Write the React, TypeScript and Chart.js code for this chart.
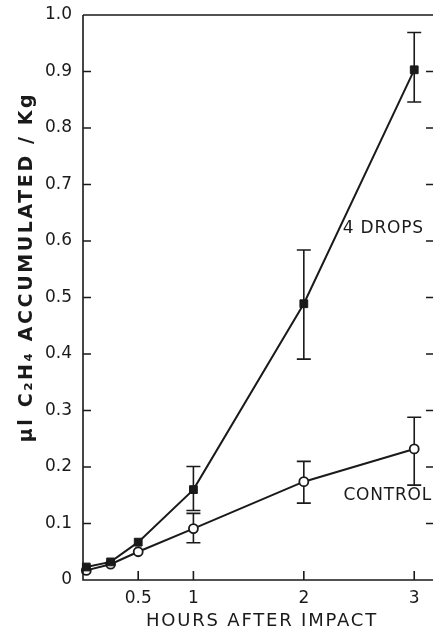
import React, { useEffect, useRef } from "react";
import { Chart, registerables } from "chart.js";

Chart.register(...registerables);

// Hours after impact
const hours = [0.03, 0.25, 0.5, 1, 2, 3];
// 4 DROPS series (filled squares)
const fourDrops = [0.023, 0.032, 0.067, 0.16, 0.489, 0.903];
const fourDropsLow = [null, null, null, 0.123, 0.391, 0.846];
const fourDropsHigh = [null, null, null, 0.201, 0.584, 0.969];
// CONTROL series (open circles)
const control = [0.017, 0.028, 0.05, 0.091, 0.174, 0.232];
const controlLow = [null, null, null, 0.066, 0.136, 0.168];
const controlHigh = [null, null, null, 0.118, 0.21, 0.288];

const xTickValues = [0.5, 1, 2, 3];
const xTickLabels = ["0.5", "1", "2", "3"];
const yTickLabels = ["0", "0.1", "0.2", "0.3", "0.4", "0.5", "0.6", "0.7", "0.8", "0.9", "1.0"];

const xTitle = "HOURS AFTER IMPACT";
const yTitle = "μl C₂H₄ ACCUMULATED / Kg";
const seriesNames = ["4 DROPS", "CONTROL"];

const INK = "#1a1a1a";
const FONT = '"DejaVu Sans", sans-serif';

export default function App() {
  const ref = useRef<HTMLCanvasElement | null>(null);

  useEffect(() => {
    document.body.style.margin = "0";
    const canvas = ref.current;
    if (!canvas) return;

    const errs = [
      { low: fourDropsLow, high: fourDropsHigh },
      { low: controlLow, high: controlHigh },
    ];

    const errorBars = {
      id: "errorBars",
      beforeDatasetsDraw(chart: any) {
        const { ctx, scales } = chart;
        const xs = scales.x;
        const ys = scales.y;
        ctx.save();
        ctx.strokeStyle = INK;
        ctx.lineWidth = 1.6;
        errs.forEach((e) => {
          hours.forEach((h, i) => {
            const lo = e.low[i];
            const hi = e.high[i];
            if (lo == null || hi == null) return;
            const px = xs.getPixelForValue(h);
            const pLo = ys.getPixelForValue(lo);
            const pHi = ys.getPixelForValue(hi);
            ctx.beginPath();
            ctx.moveTo(px, pLo);
            ctx.lineTo(px, pHi);
            ctx.moveTo(px - 7, pLo);
            ctx.lineTo(px + 7, pLo);
            ctx.moveTo(px - 7, pHi);
            ctx.lineTo(px + 7, pHi);
            ctx.stroke();
          });
        });
        ctx.restore();
      },
    };

    const frame = {
      id: "frame",
      afterDraw(chart: any) {
        const { ctx, chartArea, scales } = chart;
        const { left, right, top, bottom } = chartArea;
        const xs = scales.x;
        const ys = scales.y;
        ctx.save();
        ctx.strokeStyle = INK;
        ctx.lineWidth = 1.6;
        ctx.beginPath();
        // axes lines
        ctx.moveTo(left, top);
        ctx.lineTo(left, bottom);
        ctx.lineTo(right, bottom);
        ctx.moveTo(left, top);
        ctx.lineTo(right, top);
        // y ticks (inward, both sides)
        yTickLabels.forEach((_, i) => {
          const v = i / 10;
          const py = ys.getPixelForValue(v);
          ctx.moveTo(left, py);
          ctx.lineTo(left + 8, py);
          ctx.moveTo(right - 7, py);
          ctx.lineTo(right, py);
        });
        // x ticks (inward)
        xTickValues.forEach((v) => {
          const px = xs.getPixelForValue(v);
          ctx.moveTo(px, bottom);
          ctx.lineTo(px, bottom - 9);
        });
        ctx.stroke();

        // titles
        ctx.fillStyle = INK;
        ctx.textAlign = "center";
        ctx.textBaseline = "middle";
        (ctx as any).letterSpacing = "1.8px";
        ctx.font = `18px ${FONT}`;
        ctx.fillText(xTitle, 262, 621);

        ctx.save();
        ctx.translate(27, 267);
        ctx.rotate(-Math.PI / 2);
        (ctx as any).letterSpacing = "2.6px";
        ctx.font = `bold 19px ${FONT}`;
        ctx.fillText(yTitle, 0, 0);
        ctx.restore();

        // series labels
        (ctx as any).letterSpacing = "0.8px";
        ctx.font = `17px ${FONT}`;
        ctx.fillText(seriesNames[0], xs.getPixelForValue(2.72), ys.getPixelForValue(0.622));
        ctx.fillText(seriesNames[1], xs.getPixelForValue(2.76), ys.getPixelForValue(0.15));
        ctx.restore();
      },
    };

    const chart = new Chart(canvas, {
      type: "line",
      data: {
        datasets: [
          {
            label: seriesNames[0],
            data: hours.map((h, i) => ({ x: h, y: fourDrops[i] })),
            borderColor: INK,
            borderWidth: 2,
            backgroundColor: INK,
            pointStyle: "rect",
            pointRadius: 5.5,
            pointBorderWidth: 1,
            pointBackgroundColor: INK,
            pointBorderColor: INK,
            tension: 0,
            clip: false,
          },
          {
            label: seriesNames[1],
            data: hours.map((h, i) => ({ x: h, y: control[i] })),
            borderColor: INK,
            borderWidth: 2,
            backgroundColor: "#ffffff",
            pointStyle: "circle",
            pointRadius: 4.5,
            pointBorderWidth: 1.8,
            pointBackgroundColor: "#ffffff",
            pointBorderColor: INK,
            tension: 0,
            clip: false,
          },
        ],
      },
      options: {
        animation: false,
        responsive: false,
        maintainAspectRatio: false,
        layout: { autoPadding: false, padding: { top: 15, right: 0, left: 0, bottom: 0 } },
        plugins: {
          legend: { display: false },
          tooltip: { enabled: false },
          title: { display: false },
        },
        scales: {
          x: {
            type: "linear",
            min: 0,
            max: 3.17,
            grid: { display: false, drawTicks: false },
            border: { display: false },
            afterFit: (s: any) => {
              s.height = 52;
              s.paddingLeft = 0;
              s.paddingRight = 0;
            },
            afterBuildTicks: (s: any) => {
              s.ticks = xTickValues.map((v) => ({ value: v }));
            },
            ticks: {
              autoSkip: false,
              maxRotation: 0,
              padding: 8,
              color: INK,
              font: { family: FONT, size: 17 },
              callback: (v: any) => {
                const idx = xTickValues.indexOf(Number(v));
                return idx >= 0 ? xTickLabels[idx] : "";
              },
            },
          },
          y: {
            type: "linear",
            min: 0,
            max: 1.0,
            grid: { display: false, drawTicks: false },
            border: { display: false },
            afterFit: (s: any) => {
              s.width = 83;
              s.paddingTop = 0;
              s.paddingBottom = 0;
            },
            ticks: {
              stepSize: 0.1,
              padding: 11,
              color: INK,
              font: { family: FONT, size: 17 },
              callback: (v: any) => {
                const idx = Math.round(Number(v) * 10);
                return yTickLabels[idx] ?? "";
              },
            },
          },
        },
      },
      plugins: [errorBars, frame],
    });

    return () => chart.destroy();
  }, []);

  return (
    <div style={{ width: 433, height: 632 }}>
      <canvas ref={ref} width={433} height={632} style={{ display: "block" }} />
    </div>
  );
}
